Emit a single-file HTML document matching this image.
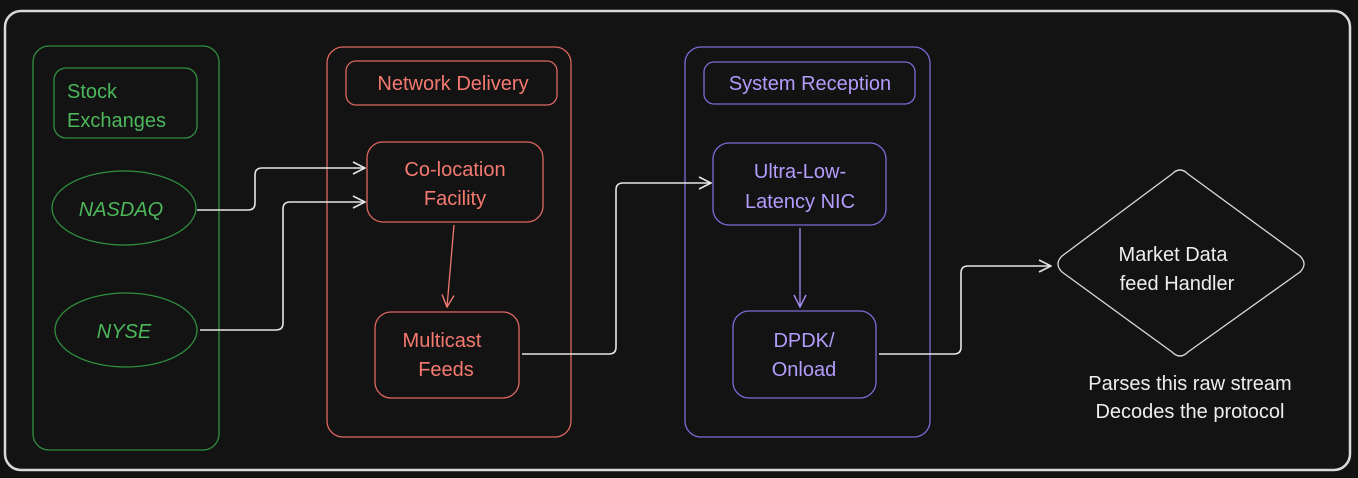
<!DOCTYPE html>
<html><head><meta charset="utf-8"><style>
html,body{margin:0;padding:0;background:#121212;}
svg{display:block;}
text{font-family:"Liberation Sans",sans-serif;font-size:20px;text-anchor:middle;}
</style></head><body>
<svg width="1358" height="478" viewBox="0 0 1358 478">
<defs>
<marker id="aw" markerWidth="14" markerHeight="14" refX="13" refY="7" orient="auto" markerUnits="userSpaceOnUse"><path d="M1,1 L13,7 L1,13" fill="none" stroke="#e6e6e6" stroke-width="1.6"/></marker>
<marker id="ar" markerWidth="14" markerHeight="14" refX="13" refY="7" orient="auto" markerUnits="userSpaceOnUse"><path d="M1,1 L13,7 L1,13" fill="none" stroke="#f07a70" stroke-width="1.4"/></marker>
<marker id="ap" markerWidth="14" markerHeight="14" refX="13" refY="7" orient="auto" markerUnits="userSpaceOnUse"><path d="M1,1 L13,7 L1,13" fill="none" stroke="#a48cf5" stroke-width="1.4"/></marker>
</defs>
<rect x="0" y="0" width="1358" height="478" fill="#121212"/>
<rect x="5" y="11" width="1345" height="459" rx="16" fill="#131313" stroke="#d8d8d8" stroke-width="2.5"/>

<!-- green -->
<rect x="33" y="46" width="186" height="404" rx="16" fill="none" stroke="#2f8f3e" stroke-width="1.3"/>
<rect x="54" y="68" width="143" height="70" rx="12" fill="none" stroke="#2f8f3e" stroke-width="1.3"/>
<text x="67" y="98" fill="#4cb85a" style="text-anchor:start">Stock</text>
<text x="67" y="127" fill="#4cb85a" style="text-anchor:start">Exchanges</text>
<ellipse cx="124" cy="208" rx="72" ry="37" fill="none" stroke="#2f8f3e" stroke-width="1.3"/>
<text x="121" y="216" fill="#4cb85a" font-style="italic">NASDAQ</text>
<ellipse cx="126" cy="330" rx="71" ry="37" fill="none" stroke="#2f8f3e" stroke-width="1.3"/>
<text x="124" y="338" fill="#4cb85a" font-style="italic">NYSE</text>

<!-- red -->
<rect x="327" y="47" width="244" height="390" rx="16" fill="none" stroke="#e0685f" stroke-width="1.3"/>
<rect x="346" y="61" width="211" height="44" rx="10" fill="none" stroke="#e0685f" stroke-width="1.3"/>
<text x="453" y="90" fill="#f47a70">Network Delivery</text>
<rect x="367" y="142" width="176" height="80" rx="16" fill="none" stroke="#e0685f" stroke-width="1.3"/>
<text x="455" y="176" fill="#f47a70">Co-location</text>
<text x="455" y="205" fill="#f47a70">Facility</text>
<rect x="375" y="312" width="144" height="86" rx="16" fill="none" stroke="#e0685f" stroke-width="1.3"/>
<text x="442" y="347" fill="#f47a70">Multicast</text>
<text x="446" y="376" fill="#f47a70">Feeds</text>

<!-- purple -->
<rect x="685" y="47" width="245" height="390" rx="16" fill="none" stroke="#7e6bd8" stroke-width="1.3"/>
<rect x="704" y="62" width="211" height="42" rx="10" fill="none" stroke="#7e6bd8" stroke-width="1.3"/>
<text x="810" y="90" fill="#b39cfb">System Reception</text>
<rect x="713" y="143" width="173" height="82" rx="16" fill="none" stroke="#7e6bd8" stroke-width="1.3"/>
<text x="800" y="178" fill="#b39cfb">Ultra-Low-</text>
<text x="800" y="208" fill="#b39cfb">Latency NIC</text>
<rect x="733" y="311" width="143" height="87" rx="16" fill="none" stroke="#7e6bd8" stroke-width="1.3"/>
<text x="804" y="347" fill="#b39cfb">DPDK/</text>
<text x="804" y="376" fill="#b39cfb">Onload</text>

<!-- diamond -->
<path d="M1172,174 Q1180,166 1188,174 L1300,256 Q1308,264 1300,272 L1188,352 Q1180,360 1172,352 L1062,272 Q1054,264 1062,256 Z" fill="none" stroke="#d8d8d8" stroke-width="1.3"/>
<text x="1173" y="261" fill="#eeeeee">Market Data</text>
<text x="1177" y="290" fill="#eeeeee">feed Handler</text>
<text x="1190" y="390" fill="#eeeeee">Parses this raw stream</text>
<text x="1190" y="418" fill="#eeeeee">Decodes the protocol</text>

<!-- connectors -->
<g fill="none" stroke="#e6e6e6" stroke-width="1.6">
<path d="M197,210 L248,210 Q255,210 255,203 L255,175 Q255,168 262,168 L365,168" marker-end="url(#aw)"/>
<path d="M200,330 L276,330 Q283,330 283,323 L283,209 Q283,202 290,202 L365,202" marker-end="url(#aw)"/>
<path d="M522,354 L609,354 Q616,354 616,347 L616,190 Q616,183 623,183 L711,183" marker-end="url(#aw)"/>
<path d="M879,354 L954,354 Q961,354 961,347 L961,273 Q961,266 968,266 L1051,266" marker-end="url(#aw)"/>
</g>
<path d="M454,225 L447,307" fill="none" stroke="#f07a70" stroke-width="1.3" marker-end="url(#ar)"/>
<path d="M800,228 L800,307" fill="none" stroke="#a48cf5" stroke-width="1.3" marker-end="url(#ap)"/>
</svg>
</body></html>
